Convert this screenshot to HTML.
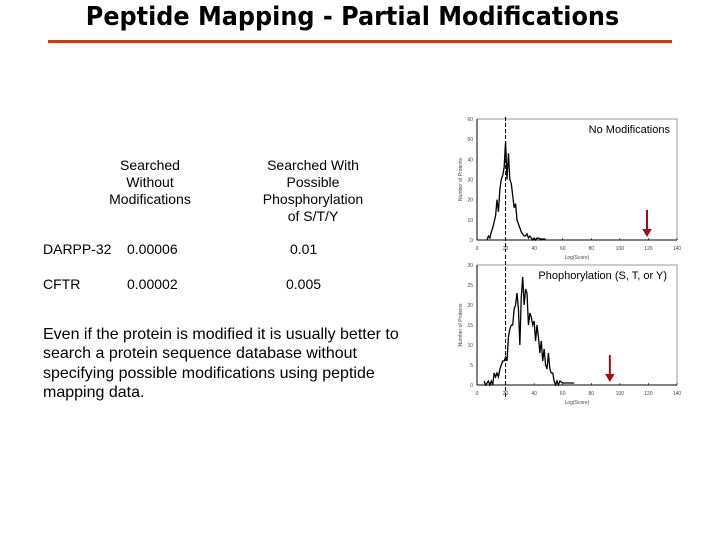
<!DOCTYPE html>
<html><head><meta charset="utf-8"><style>
body{margin:0;width:720px;height:540px;background:#fff;position:relative;overflow:hidden;font-family:"Liberation Sans",sans-serif;}
.t{position:absolute;font-size:14px;color:#000;}
.c{text-align:center;}
</style></head><body>
<div style="position:absolute;left:0;width:705px;top:2px;text-align:center;font-family:'Comic Sans MS','DejaVu Sans',sans-serif;font-size:26px;font-weight:bold;transform:scaleX(0.92);">Peptide Mapping - Partial Modifications</div>
<div style="position:absolute;left:48px;top:40px;width:624px;height:3px;background:#c0401a;"></div>
<div class="t c" style="left:100px;top:157px;width:100px;line-height:17px;">Searched Without Modifications</div>
<div class="t c" style="left:257px;top:157px;width:112px;line-height:17px;">Searched With Possible Phosphorylation of S/T/Y</div>
<div class="t" style="left:43px;top:241px;">DARPP-32</div>
<div class="t" style="left:127px;top:241px;">0.00006</div>
<div class="t" style="left:290px;top:241px;">0.01</div>
<div class="t" style="left:43px;top:276px;">CFTR</div>
<div class="t" style="left:127px;top:276px;">0.00002</div>
<div class="t" style="left:286px;top:276px;">0.005</div>
<div class="t" style="left:43px;top:325px;width:380px;font-size:16px;line-height:19.3px;white-space:nowrap;">Even if the protein is modified it is usually better to<br>search a protein sequence database without<br>specifying possible modifications using peptide<br>mapping data.</div>
<svg id="svg" width="720" height="540" style="position:absolute;left:0;top:0"></svg>
<script>
const xTicks=[0,20,40,60,80,100,120,140];
const y1Ticks=[0,10,20,30,40,50,60];
const y2Ticks=[0,5,10,15,20,25,30];
const bins1=[7,8,9,10,11,12,13,14,15,16,17,18,19,20,21,22,23,24,25,26,27,28,29,30,31,32,33,34,35,36,37,38,39,40,41,42,45,48];
const vals1=[0,2,1,4,6,9,12,20,14,25,30,32,36,49,30,43,30,28,22,16,18,10,8,6,4,3,2,2,3,1,2,1,0,1,0,1,0.5,0.5];
const bins2=[5,6,8,9,10,11,12,13,14,15,16,17,18,19,20,21,22,23,24,25,26,27,28,29,30,31,32,33,34,35,36,37,38,39,40,41,42,43,44,45,46,47,48,49,50,51,52,53,54,55,56,57,58,60,68];
const vals2=[1,0,1,0,1,0,3,2,3,2,4,5,6,6,7,6,12,14,15,15,19,20,23,19,10,22,27,20,24,23,15,18,17,15,16,11,15,12,8,11,6,9,5,4,8,4,3,3,1,0,1,0,1,0.5,0.5];
const svg=document.getElementById('svg');const NS='http://www.w3.org/2000/svg';
function mk(t,a,p){const e=document.createElementNS(NS,t);for(const k in a)e.setAttribute(k,a[k]);(p||svg).appendChild(e);return e;}
function chart(top,bot,ymax,yt,bins,vals,label,arrowX,lblX,name){
 const L=477,R=677;
 const sx=v=>L+v/140*(R-L), sy=v=>bot-v/ymax*(bot-top);
 const g=mk('g',{});
 
 
 const fr=mk('rect',{x:L,y:top,width:R-L,height:bot-top,fill:'none',stroke:'#999','stroke-width':1},g);
 
 
 mk('line',{x1:L,y1:top,x2:L,y2:bot,stroke:'#000'},g);
 mk('line',{x1:L,y1:bot,x2:R,y2:bot,stroke:'#000'},g);
 yt.forEach(v=>{const t=mk('text',{x:L-4,y:sy(v)+2,'font-size':5,'text-anchor':'end',fill:'#444'},g);t.textContent=v;
  
  });
 xTicks.forEach(v=>{const t=mk('text',{x:sx(v),y:bot+10,'font-size':5,'text-anchor':'middle',fill:'#444'},g);t.textContent=v;
  
  
  mk('line',{x1:sx(v),y1:bot,x2:sx(v),y2:bot-2,stroke:'#000','stroke-width':0.6},g);});
 const xt=mk('text',{x:(L+R)/2,y:bot+19,'font-size':5,'text-anchor':'middle',fill:'#444'},g);xt.textContent='Log(Score)';
 
 
 const yl=mk('text',{x:0,y:0,'font-size':5,'text-anchor':'middle',fill:'#444',transform:`translate(${L-15},${(top+bot)/2}) rotate(-90)`},g);yl.textContent='Number of Proteins';
 
 
 let d='';bins.forEach((b,i)=>{d+=(i?'L':'M')+sx(b)+','+sy(vals[i]);});
 const p=mk('path',{d:d,fill:'none',stroke:'#000','stroke-width':1.3},g);
 
 
 const dl=mk('line',{x1:sx(20),y1:top-(name==='chart-no-mod'?2:10),x2:sx(20),y2:bot+12,stroke:'#000','stroke-dasharray':'4,2','stroke-width':1},g);
 
 
 const ax=sx(arrowX);
 const ar=mk('path',{d:`M${ax},${bot-30}L${ax},${bot-8}M${ax-3},${bot-10}L${ax},${bot-5}L${ax+3},${bot-10}Z`,stroke:'#a01010','stroke-width':2,fill:'#a01010'},g);
 
 
 const lt=mk('text',{x:lblX,y:top+14,'font-size':11,'text-anchor':'end',fill:'#000','font-family':'Liberation Sans'},g);lt.textContent=label;
 
 
}
chart(119,240,60,y1Ticks,bins1,vals1,'No Modifications',119,670,'chart-no-mod');
chart(265,385,30,y2Ticks,bins2,vals2,'Phophorylation (S, T, or Y)',93,667,'chart-phospho');
</script>
</body></html>
